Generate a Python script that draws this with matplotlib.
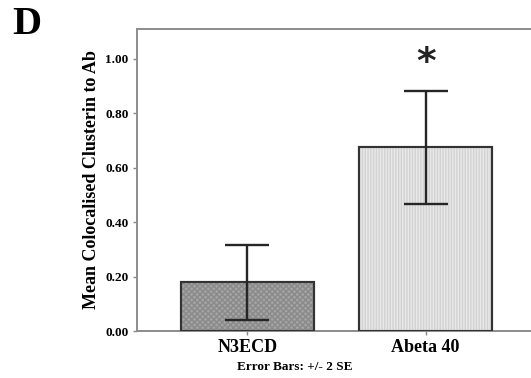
import matplotlib.pyplot as plt

# data
groups = ["N3ECD", "Abeta 40"]
means = [0.18, 0.676]
err_low = [0.04, 0.467]
err_high = [0.316, 0.882]
yticks = [0.0, 0.2, 0.4, 0.6, 0.8, 1.0]

face_colors = ["#a4a4a4", "#e9e9e9"]
hatch_colors = ["#8a8a8a", "#d2d2d2"]
hatches = ["xxxxxx", "||||||"]

SERIF = ["Liberation Serif", "DejaVu Serif"]

fig = plt.figure(figsize=(5.31, 3.78), dpi=100)
W, H = 531, 378
ax = fig.add_axes([137 / W, 47 / H, (545 - 137) / W, (331 - 29) / H])

x = list(range(len(groups)))
ax.bar(x, means, width=0.75, color=face_colors, edgecolor="#333333",
       linewidth=1.5, zorder=2)
for xi, m, hc, h in zip(x, means, hatch_colors, hatches):
    ax.bar(xi, m, width=0.75, facecolor="none", edgecolor=hc, hatch=h,
           linewidth=0, zorder=2.5)
ax.bar(x, means, width=0.75, facecolor="none", edgecolor="#333333",
       linewidth=1.5, zorder=3)

yerr = [[m - lo for m, lo in zip(means, err_low)],
        [hi - m for m, hi in zip(means, err_high)]]
ax.errorbar(x, means, yerr=yerr, fmt="none", ecolor="#262626",
            elinewidth=1.7, capsize=15.5, capthick=1.7, zorder=4)

# significance marker above the Abeta 40 bar
ax.text(1, 0.985, "*", ha="center", va="center", fontsize=27,
        fontweight="bold", family="DejaVu Sans", color="#222222")

ax.set_xlim(-0.62, 1.67)
ax.set_ylim(0, 1.11)
ax.set_yticks(yticks)
ax.set_yticklabels([f"{v:.2f}" for v in yticks], family=SERIF,
                   fontweight="bold", fontsize=9.5)
ax.set_xticks(x)
ax.set_xticklabels(groups, family=SERIF, fontweight="bold", fontsize=13)
ax.tick_params(axis="both", length=3, width=1, color="#888888", pad=3)

for side in ["left", "bottom", "top", "right"]:
    ax.spines[side].set_color("#8c8c8c")
    ax.spines[side].set_linewidth(1.4)

fig.text(91 / W, 1 - 180 / H, "Mean Colocalised Clusterin to Ab",
         rotation=90, ha="center", va="center", family=SERIF,
         fontweight="bold", fontsize=13)
fig.text(295 / W, 1 - 367 / H, "Error Bars: +/- 2 SE",
         ha="center", va="center", family=SERIF, fontweight="bold",
         fontsize=9.5)
fig.text(12 / W, 1 - 25 / H, "D", ha="left", va="center", family=SERIF,
         fontweight="bold", fontsize=29)

fig.savefig("out.png", dpi=100)
